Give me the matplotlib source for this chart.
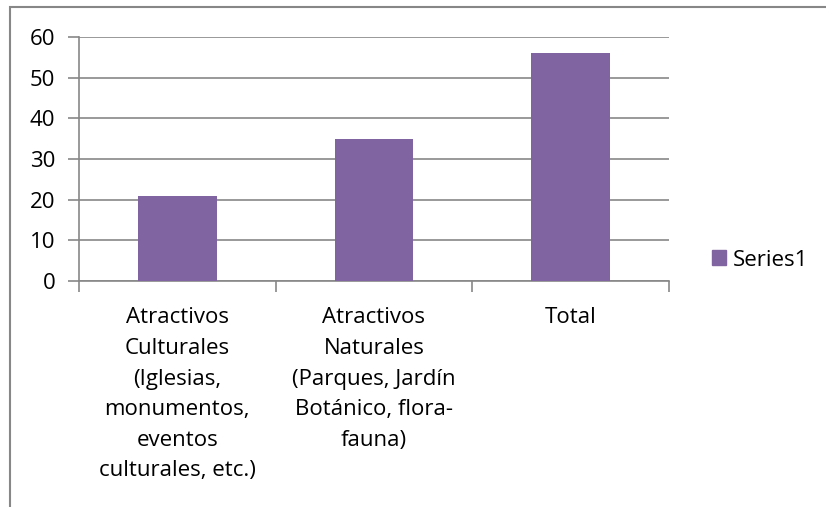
import matplotlib.pyplot as plt
from matplotlib.patches import Rectangle, Patch

# datos del gráfico
categorias = [
    "Atractivos\nCulturales\n(Iglesias,\nmonumentos,\neventos\nculturales, etc.)",
    "Atractivos\nNaturales\n(Parques, Jardín\nBotánico, flora-\nfauna)",
    "Total",
]
valores = [21, 35, 56]
serie = "Series1"

color_barra = "#8064A2"
gris = "#878787"

plt.rcParams["font.family"] = ["Open Sans", "DejaVu Sans"]

W, H = 826, 507
fig = plt.figure(figsize=(W / 100, H / 100), dpi=100)

# borde del área del gráfico (solo se ven izquierda y arriba)
fig.patches.append(Rectangle((10 / W, -0.1), 1.2, 1.1 - 7 / H,
                             transform=fig.transFigure, fill=False,
                             edgecolor=gris, linewidth=1.5))

ax = fig.add_axes([79 / W, 1 - 281 / H, (669 - 79) / W, (281 - 37) / H])

x = list(range(len(valores)))
ax.bar(x, valores, width=0.4, color=color_barra, zorder=3)

ax.set_xlim(-0.5, len(valores) - 0.5)
ax.set_ylim(0, 60)
ax.set_yticks(range(0, 61, 10))
ax.yaxis.grid(True, color=gris, linewidth=1.2, zorder=0)

for s in ["top", "right"]:
    ax.spines[s].set_visible(False)
for s in ["left", "bottom"]:
    ax.spines[s].set_color(gris)
    ax.spines[s].set_linewidth(1.2)

ax.tick_params(axis="y", length=8, color=gris, width=1.2, labelsize=16, pad=9)
ax.set_xticks(x)
ax.set_xticklabels(categorias, fontsize=16, linespacing=1.6, va="top")
ax.tick_params(axis="x", which="major", length=0, pad=19)
ax.set_xticks([i - 0.5 for i in range(len(valores) + 1)], minor=True)
ax.tick_params(axis="x", which="minor", length=8, color=gris, width=1.2)

leg = fig.legend(handles=[Patch(color=color_barra, label=serie)],
                 loc="center left", bbox_to_anchor=(692 / W, 1 - 260 / H),
                 frameon=False, fontsize=16, handlelength=0.65,
                 handleheight=0.65, handletextpad=0.3)

fig.savefig("out.png", dpi=100)
